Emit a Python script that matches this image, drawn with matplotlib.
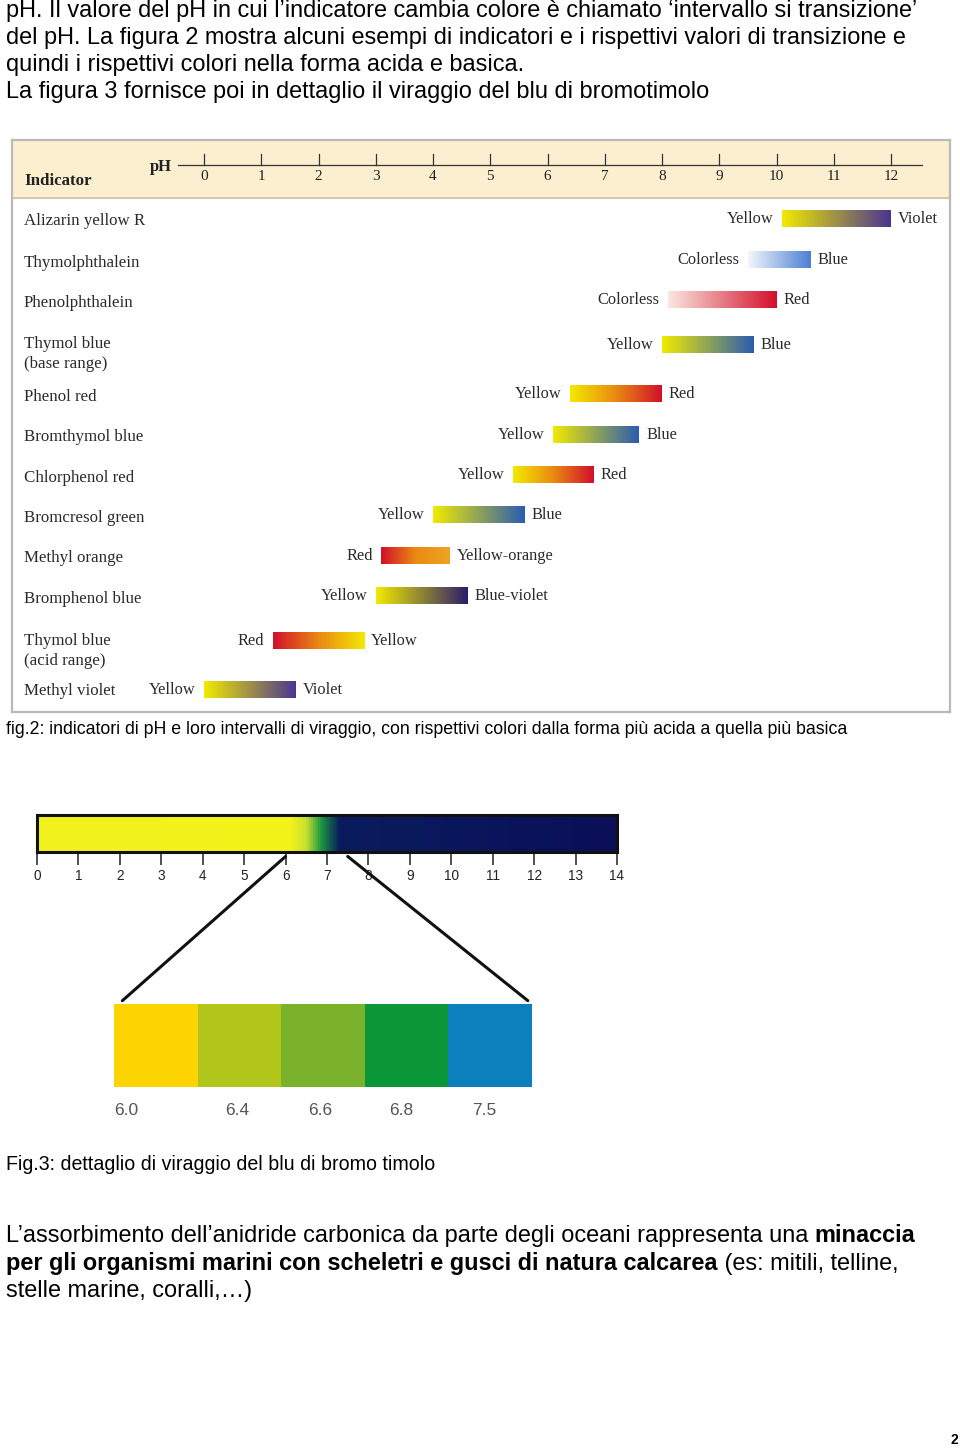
import matplotlib
matplotlib.use("Agg")
import matplotlib.pyplot as plt
import numpy as np
from matplotlib.colors import LinearSegmentedColormap
from matplotlib.patches import ConnectionPatch

# ---- data: fig.2 indicators ----
indicators = [
    "Alizarin yellow R", "Thymolphthalein", "Phenolphthalein",
    "Thymol blue\n(base range)", "Phenol red", "Bromthymol blue",
    "Chlorphenol red", "Bromcresol green", "Methyl orange",
    "Bromphenol blue", "Thymol blue\n(acid range)", "Methyl violet",
]
ph_start = [10.1, 9.5, 8.1, 8.0, 6.4, 6.1, 5.4, 4.0, 3.1, 3.0, 1.2, 0.0]
ph_end = [12.0, 10.6, 10.0, 9.6, 8.0, 7.6, 6.8, 5.6, 4.3, 4.6, 2.8, 1.6]
acid_color_name = ["Yellow", "Colorless", "Colorless", "Yellow", "Yellow", "Yellow",
                   "Yellow", "Yellow", "Red", "Yellow", "Red", "Yellow"]
base_color_name = ["Violet", "Blue", "Red", "Blue", "Red", "Blue",
                   "Red", "Blue", "Yellow-orange", "Blue-violet", "Yellow", "Violet"]
ph_ticks = list(range(0, 13))

# ---- data: fig.3 bromothymol blue ----
btb_ticks = list(range(0, 15))
btb_zoom_from, btb_zoom_to = 6.0, 7.5
swatch_labels = ["6.0", "6.4", "6.6", "6.8", "7.5"]

# ---- styles ----
GRAD = {
    "Yellow": "#f2ea00", "Violet": "#4a3592", "Colorless": "#ffffff",
    "Blue": "#2a5cb2", "Red": "#d20f2b", "Yellow-orange": "#eea424",
    "Blue-violet": "#2a1d6c",
}
FADE = {"Colorless->Blue": ("#f4f6fc", "#4a80d2"), "Colorless->Red": ("#fbe8e0", "#d20f2b")}
ROW_Y = [219, 260, 300, 345, 394, 435, 475, 515, 556, 596, 641, 690]
NAME_Y = [221, 263, 303, 354, 397, 437, 478, 518, 558, 599, 651, 691]
SWATCH_COLORS = ["#fdd300", "#b1c51a", "#7bb22b", "#0b9738", "#0b80bc"]
SERIF = "Liberation Serif"
SANS = "Liberation Sans"
BODY = 16.95


def px_to_fig(x0, y0, x1, y1):
    return [x0 / W, 1 - y1 / H, (x1 - x0) / W, (y1 - y0) / H]


W, H = 960, 1449
fig = plt.figure(figsize=(W / 100, H / 100), dpi=100)
fig.patch.set_facecolor("white")

# page layer in pixel coords
bg = fig.add_axes([0, 0, 1, 1])
bg.set_xlim(0, W)
bg.set_ylim(H, 0)
bg.axis("off")

page_lines = [
    "pH. Il valore del pH in cui l\u2019indicatore cambia colore \u00e8 chiamato \u2018intervallo si transizione\u2019",
    "del pH. La figura 2 mostra alcuni esempi di indicatori e i rispettivi valori di transizione e",
    "quindi i rispettivi colori nella forma acida e basica.",
    "La figura 3 fornisce poi in dettaglio il viraggio del blu di bromotimolo",
]
for i, line in enumerate(page_lines):
    bg.text(6, 11 + 27 * i, line, fontsize=BODY, family=SANS, va="center", ha="left")

bg.text(6, 730, "fig.2: indicatori di pH e loro intervalli di viraggio, con rispettivi colori "
        "dalla forma pi\u00f9 acida a quella pi\u00f9 basica", fontsize=12.75, family=SANS, va="center")
bg.text(6, 1165, "Fig.3: dettaglio di viraggio del blu di bromo timolo",
        fontsize=14.1, family=SANS, va="center")

# closing paragraph with bold runs
para = [
    [("L\u2019assorbimento dell\u2019anidride carbonica da parte degli oceani rappresenta una ", "normal"),
     ("minaccia", "bold")],
    [("per gli organismi marini con scheletri e gusci di natura calcarea", "bold"),
     (" (es: mitili, telline,", "normal")],
    [("stelle marine, coralli,\u2026)", "normal")],
]
for i, runs in enumerate(para):
    prev = None
    for txt, weight in runs:
        if prev is None:
            prev = bg.text(6, 1236 + 27.5 * i, txt, fontsize=BODY, family=SANS,
                           fontweight=weight, va="center", ha="left")
        else:
            prev = bg.annotate(txt, xy=(1, 0), xycoords=prev, fontsize=BODY, family=SANS,
                               fontweight=weight, va="bottom", ha="left")

bg.text(958, 1440, "2", fontsize=10, family=SANS, fontweight="bold", ha="right", va="center")

# ---- fig.2 ----
X0PX, UNIT = 204, 57.25   # pixel of pH 0 and pixels per pH unit
ax2 = fig.add_axes(px_to_fig(12, 140, 950, 712))
ax2.set_xticks([])
ax2.set_yticks([])
for s in ax2.spines.values():
    s.set_color("#b9b9b9")
    s.set_linewidth(1.6)
ax2.axhspan(140, 198, color="#fcefd0", zorder=0)
ax2.axhline(198, color="#c8c0b0", lw=1.2)

# pH axis in header
ax2.plot([(178 - X0PX) / UNIT, (922 - X0PX) / UNIT], [165, 165], color="#333333", lw=0.9)
for t in ph_ticks:
    ax2.plot([t, t], [154, 165], color="#333333", lw=0.9)
    ax2.text(t, 176, str(t), ha="center", va="center", fontsize=11, family=SERIF, color="#222222")
ax2.text((172 - X0PX) / UNIT, 167, "pH", ha="right", va="center", fontsize=12,
         family=SERIF, fontweight="bold", color="#222222")
ax2.text((24 - X0PX) / UNIT, 181, "Indicator", ha="left", va="center", fontsize=12.2,
         family=SERIF, fontweight="bold", color="#222222")

grad = np.linspace(0, 1, 256)[None, :]
for i, name in enumerate(indicators):
    ax2.text((24 - X0PX) / UNIT, NAME_Y[i], name, ha="left", va="center", fontsize=12.2,
             family=SERIF, color="#2a2a2a", linespacing=1.4)
    a, b = acid_color_name[i], base_color_name[i]
    key = f"{a}->{b}"
    if key in FADE:
        c0, c1 = FADE[key]
        cmap = LinearSegmentedColormap.from_list(key, [c0, c1])
    elif {a, b} == {"Yellow", "Red"} or key == "Red->Yellow-orange":
        cmap = LinearSegmentedColormap.from_list(key, [GRAD[a], "#e98a12", GRAD[b]])
    else:
        cmap = LinearSegmentedColormap.from_list(key, [GRAD[a], GRAD[b]])
    y = ROW_Y[i]
    ax2.imshow(grad, cmap=cmap, aspect="auto", extent=(ph_start[i], ph_end[i], y + 8.5, y - 8.5),
               interpolation="bilinear", zorder=2)
    ax2.annotate(a, xy=(ph_start[i], y), xytext=(-6, 0), textcoords="offset points",
                 ha="right", va="center", fontsize=11.8, family=SERIF, color="#2a2a2a")
    ax2.annotate(b, xy=(ph_end[i], y), xytext=(5, 0), textcoords="offset points",
                 ha="left", va="center", fontsize=11.8, family=SERIF, color="#2a2a2a")
ax2.set_xlim((12 - X0PX) / UNIT, (950 - X0PX) / UNIT)
ax2.set_ylim(712, 140)

# ---- fig.3 ----
ax3 = fig.add_axes(px_to_fig(37, 815, 617, 852))
btb_cmap = LinearSegmentedColormap.from_list("btb", [
    (0.0, "#f2f21e"), (6.1 / 14, "#f4f41a"), (6.5 / 14, "#c8e030"),
    (6.85 / 14, "#1c9a40"), (7.3 / 14, "#0b1c5e"), (1.0, "#0a0f58")])
ax3.imshow(np.linspace(0, 1, 512)[None, :], cmap=btb_cmap, aspect="auto",
           extent=(0, 14, 0, 1), interpolation="bilinear")
ax3.set_xlim(0, 14)
ax3.set_ylim(0, 1)
for s in ax3.spines.values():
    s.set_color("#111111")
    s.set_linewidth(2.2)
ax3.set_yticks([])
ax3.set_xticks(btb_ticks)
ax3.set_xticklabels([str(t) for t in btb_ticks], fontsize=9.8, family=SANS, color="#222222")
ax3.tick_params(axis="x", length=9, width=1.1, color="#222222", pad=3)

# swatches
ax4 = fig.add_axes(px_to_fig(114, 1004, 532, 1087))
ax4.set_xlim(0, len(SWATCH_COLORS))
ax4.set_ylim(0, 1)
ax4.bar(range(len(SWATCH_COLORS)), [1] * len(SWATCH_COLORS), width=1.0, align="edge",
        color=SWATCH_COLORS, edgecolor="none")
ax4.axis("off")
label_shift = [-0.35, -0.03, -0.03, -0.07, -0.07]
for i, lab in enumerate(swatch_labels):
    ax4.text(i + 0.5 + label_shift[i], -0.28, lab, ha="center", va="center",
             fontsize=12.5, family=SANS, color="#555555")

for x_from, x_to in [(btb_zoom_from, 0), (btb_zoom_to, len(SWATCH_COLORS))]:
    con = ConnectionPatch(xyA=(x_from, -0.12), coordsA=ax3.transData,
                          xyB=(x_to + (0.1 if x_to == 0 else -0.05), 1.04), coordsB=ax4.transData,
                          color="#111111", lw=2.2)
    fig.add_artist(con)

fig.savefig("out.png", dpi=100, facecolor="white")
